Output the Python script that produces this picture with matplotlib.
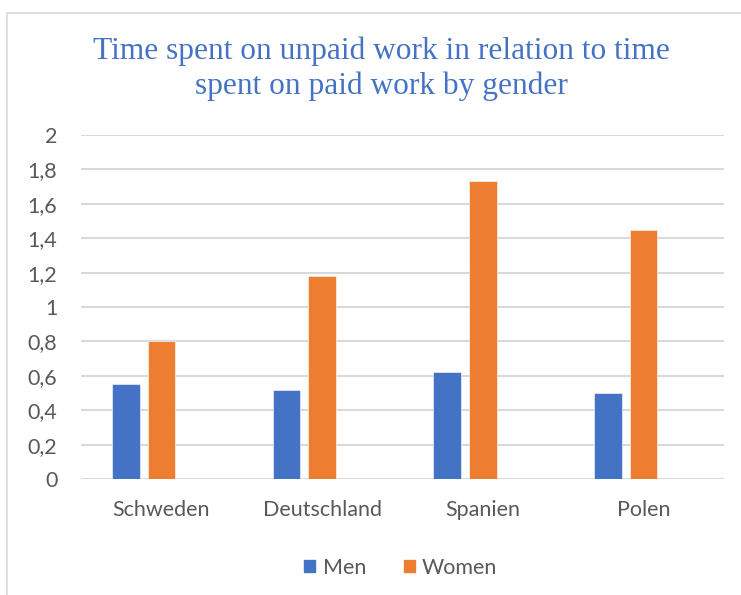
import numpy as np
import matplotlib.pyplot as plt
from matplotlib.patches import Rectangle, Patch

countries = ['Schweden', 'Deutschland', 'Spanien', 'Polen']
men = [0.55, 0.52, 0.62, 0.50]
women = [0.80, 1.18, 1.73, 1.45]
yticks = [0, 0.2, 0.4, 0.6, 0.8, 1, 1.2, 1.4, 1.6, 1.8, 2]
ytick_labels = ['0', '0,2', '0,4', '0,6', '0,8', '1', '1,2', '1,4', '1,6', '1,8', '2']

blue = '#4472C4'
orange = '#ED7D31'
grey_text = '#595959'

fig = plt.figure(figsize=(7.41, 5.95), dpi=100)
fig.patches.append(Rectangle((7 / 741, -0.1), 1.2, 1 - 13 / 595 + 0.1,
                             transform=fig.transFigure, fill=False,
                             edgecolor='#D9D9D9', linewidth=1.2))

ax = fig.add_axes([81 / 741, 1 - 479 / 595, (723.7 - 81) / 741, (479 - 135) / 595])

x = np.arange(len(countries))
w = 0.172
ax.bar(x - 0.2215, men, width=w, color=blue, edgecolor='white', linewidth=0.4, label='Men', zorder=3)
ax.bar(x, women, width=w, color=orange, edgecolor='white', linewidth=0.4, label='Women', zorder=3)

ax.set_xlim(-0.5, 3.5)
ax.set_ylim(0, 2)
ax.set_yticks(yticks)
ax.set_yticklabels(ytick_labels)
ax.set_xticks(x)
ax.set_xticklabels(countries)
ax.yaxis.grid(True, color='#D9D9D9', linewidth=1.5, zorder=0)
ax.set_axisbelow(True)
for s in ax.spines.values():
    s.set_visible(False)
ax.tick_params(axis='both', length=0, labelsize=15.5, labelcolor=grey_text)
ax.tick_params(axis='y', pad=17)
ax.tick_params(axis='x', pad=15)
for lab in ax.get_xticklabels() + ax.get_yticklabels():
    lab.set_fontfamily('Lato')

fig.text(381 / 741, 1 - 69 / 595,
         'Time spent on unpaid work in relation to time\nspent on paid work by gender',
         ha='center', va='center', fontsize=22.6, color=blue,
         family='Liberation Serif', linespacing=1.25)

handles = [Patch(color=blue, label='Men'), Patch(color=orange, label='Women')]
fig.legend(handles=handles, loc='center', bbox_to_anchor=(401 / 741, 1 - 568 / 595),
           ncol=2, frameon=False, prop={'family': 'Lato', 'size': 15.5},
           labelcolor=grey_text, handlelength=0.5, handleheight=0.5,
           handletextpad=0.35, columnspacing=1.75)

fig.savefig('out.png', dpi=100)
